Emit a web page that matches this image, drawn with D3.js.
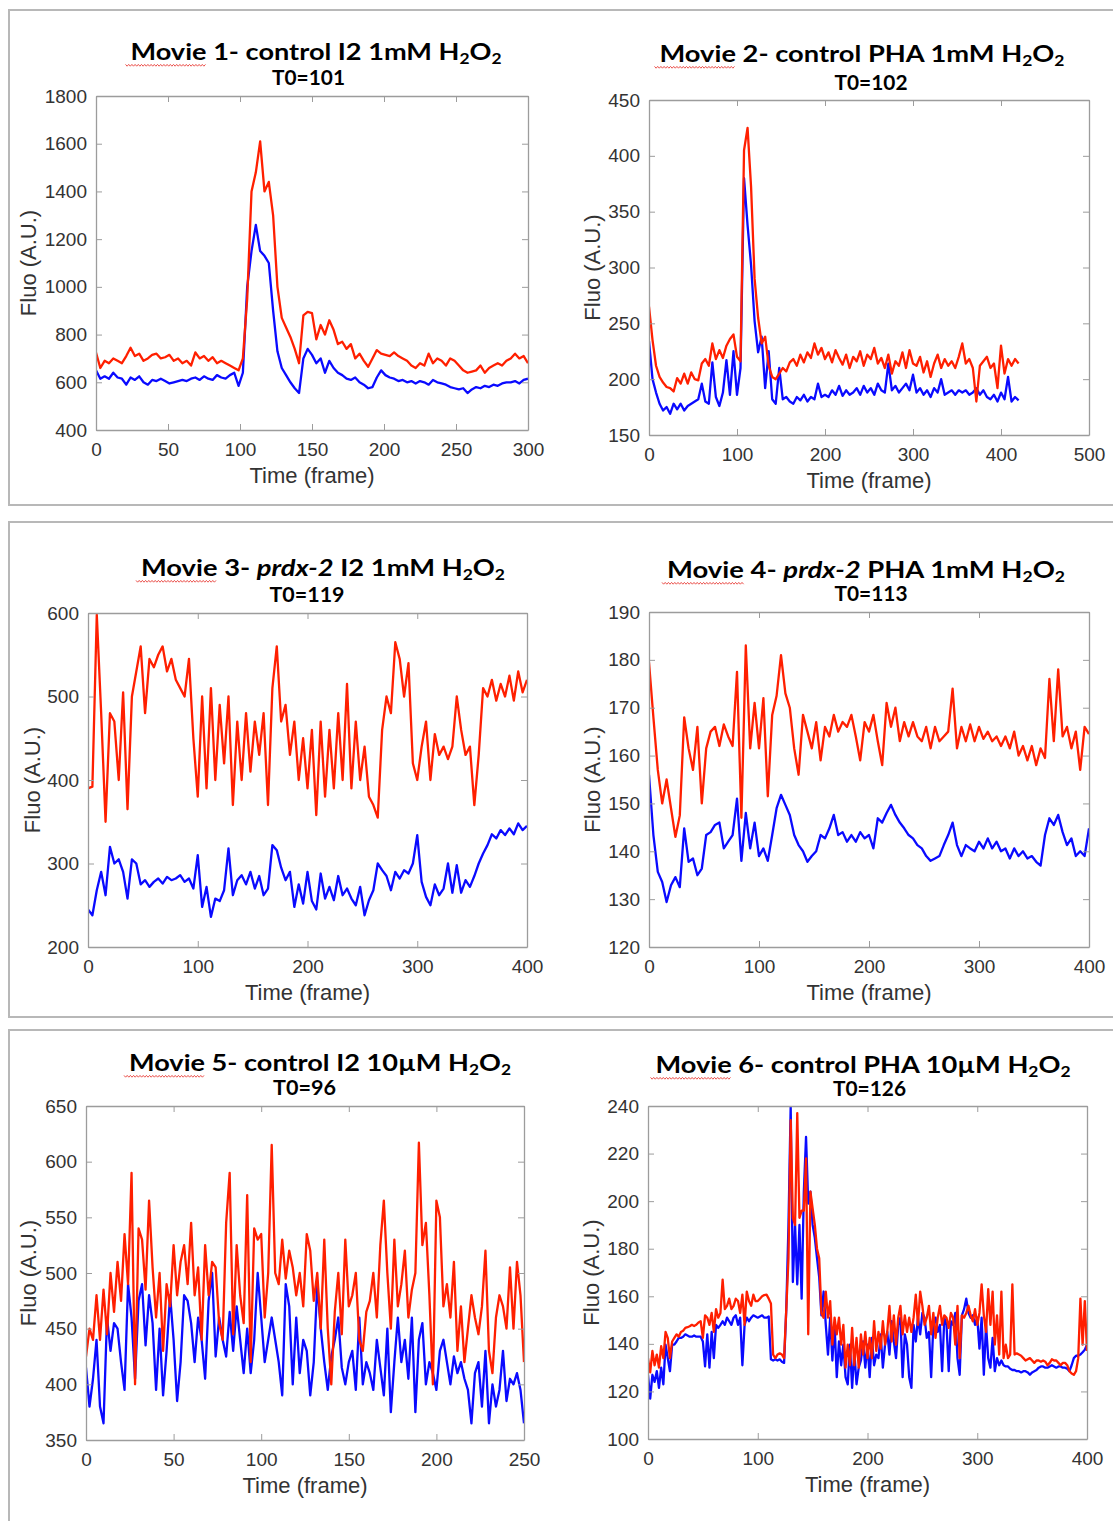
<!DOCTYPE html>
<html><head><meta charset="utf-8">
<script src="https://cdn.jsdelivr.net/npm/d3@7"></script>
<style>body{margin:0;background:#fff;} svg{display:block;}</style>
</head><body>
<svg id="c" width="1113" height="1521"></svg>
<script>
// ---------------- DATA ----------------
// Movie 1 (sampled every 3 frames, 0..300)
const m1Step = 3;
const m1Red = [725,660,690,680,700,690,680,710,745,710,
720,690,700,715,720,700,705,715,690,700,
680,690,670,725,700,710,690,705,680,690,
680,670,660,650,700,950,1400,1480,1610,1400,
1440,1300,1000,870,830,790,740,680,880,895,
890,780,840,800,860,820,760,770,740,760,
700,720,690,665,700,735,720,715,710,725,
710,700,690,670,660,680,670,720,680,700,
690,670,700,690,670,650,640,645,650,670,
640,660,670,680,670,690,700,720,700,710,680];
const m1Blue = [650,615,625,615,640,620,615,590,620,610,
625,600,590,610,605,615,605,595,600,605,
610,605,615,620,610,625,615,610,630,620,
615,630,640,585,640,1000,1150,1260,1150,1130,
1100,900,730,660,630,600,575,555,700,740,
715,680,700,640,690,660,640,630,615,610,
620,600,590,575,580,620,650,630,620,615,
605,610,600,605,595,605,600,590,610,600,
595,590,580,575,570,575,555,570,580,575,
585,580,590,585,595,600,600,605,595,610,615];
const m1XTicks = [0,50,100,150,200,250,300];
const m1YTicks = [400,600,800,1000,1200,1400,1600,1800];
const m1Title = [{t:"Movie 1- control I2 1mM H"},{t:"2",sub:1},{t:"O"},{t:"2",sub:1}];
const m1T0 = "T0=101";

// Movie 2 (every 4 frames, 0..420)
const m2Step = 4;
const m2Red = [265,235,212,202,197,193,192,189,201,196,
205,196,206,200,199,214,218,212,232,218,
226,219,230,236,240,220,216,405,425,372,
290,255,232,238,212,202,200,205,210,207,
215,218,212,222,215,224,219,232,222,228,
218,224,215,226,219,213,222,210,220,216,
225,212,222,218,228,214,219,210,222,205,
216,212,224,210,226,214,212,220,206,216,
202,214,222,210,218,212,216,210,220,232,
214,218,210,180,212,216,220,210,214,192,
230,205,218,212,218,214];
const m2Blue = [234,200,188,178,172,175,169,178,173,178,
172,176,178,180,182,196,180,178,215,184,
176,188,217,186,225,186,210,380,338,302,
252,224,238,192,225,182,178,210,182,184,
180,178,184,181,186,180,184,182,196,184,
186,184,190,186,194,185,190,186,188,192,
186,194,188,192,186,196,190,188,214,190,
194,188,192,196,190,204,188,192,186,190,
184,192,188,200,186,188,190,186,190,188,
190,186,188,192,186,190,184,182,186,180,
188,182,202,180,184,181];
const m2XTicks = [0,100,200,300,400,500];
const m2YTicks = [150,200,250,300,350,400,450];
const m2Title = [{t:"Movie 2- control PHA 1mM H"},{t:"2",sub:1},{t:"O"},{t:"2",sub:1}];
const m2T0 = "T0=102";

// Movie 3 (every 4 frames, 0..400)
const m3Step = 4;
const m3Red = [390,392,598,480,350,480,470,400,505,365,
500,530,560,480,545,535,550,560,530,545,
520,510,500,545,450,380,500,390,510,400,
490,420,500,370,470,400,480,410,470,430,
480,370,510,560,470,490,430,470,400,450,
390,460,358,470,380,460,390,480,400,515,
390,470,400,440,380,370,355,460,500,480,
565,545,500,540,420,400,440,470,400,455,
430,440,425,440,500,460,430,440,370,430,
510,500,520,495,515,500,525,495,530,505,520];
const m3Blue = [245,238,268,290,262,320,300,305,290,258,
305,300,275,280,272,278,282,276,284,280,
282,286,278,282,270,310,248,272,236,258,
255,268,318,262,280,286,275,290,270,285,
262,270,322,316,295,280,290,248,275,252,
290,255,245,288,258,272,256,285,262,270,
258,250,272,238,256,268,300,292,285,268,
290,282,292,288,300,334,278,260,250,275,
262,270,300,265,298,265,280,272,285,300,
312,322,335,330,340,334,342,335,348,340,345];
const m3XTicks = [0,100,200,300,400];
const m3YTicks = [200,300,400,500,600];
const m3Title = [{t:"Movie 3- "},{t:"prdx-2",i:1},{t:" I2 1mM H"},{t:"2",sub:1},{t:"O"},{t:"2",sub:1}];
const m3T0 = "T0=119";

// Movie 4 (every 4 frames, 0..400)
const m4Step = 4;
const m4Red = [179.5,168,157,150,155,149,143,147.5,168,161.5,
157,166,150,161.5,165,166,162,166.5,164,162,
177.5,147,183,161.5,171,161.5,172,151.5,168.5,172.5,
181,173,170,161.5,156,168.5,165,161.5,167,159,
166,164,168.5,165,167,166,168.5,164,159,167,
165,168.5,163,158,171,166,170,163,167,164,
167,164,163,166,161.5,166,163,164,165,174,
161.5,166,163,166.5,163,166,163.5,165,163,164,
162,164,161.5,165,160,162,159,162,158,161.5,
159.5,176,163,178,164,166,161.5,165,157,166,164.5];
const m4Blue = [156,143.4,135.7,133.6,129.4,132.9,134.6,132.5,144.8,137.8,
138.5,135,136.4,143.4,144,145.5,146,140.6,142,143.4,
151,138,148,140.6,146,139,140.6,138,143.4,149,
151.8,149.7,147.6,143.4,141.3,140,137.8,139,140,143.4,
142.7,144.8,147.6,143.4,144,142,143.4,142,144,142.7,
143.4,140.6,146.9,146,148,149.7,147.6,146,144.8,143.4,
142.7,141.3,140.6,139,138,138.5,139,141.3,143.4,146,
141.3,139,141.3,140.6,140,142,140.6,142.7,140.6,142,
140,140.6,138.5,140.6,139,140,138.5,139,137.8,137,
143.4,146.9,145.5,147.6,144,141.3,142.7,139,140,139,144.8];
const m4XTicks = [0,100,200,300,400];
const m4YTicks = [120,130,140,150,160,170,180,190];
const m4Title = [{t:"Movie 4- "},{t:"prdx-2",i:1},{t:" PHA 1mM H"},{t:"2",sub:1},{t:"O"},{t:"2",sub:1}];
const m4T0 = "T0=113";

// Movie 5 (every 2 frames, 0..250)
const m5Step = 2;
const m5Red = [425,450,440,480,440,485,445,500,465,510,
475,535,490,590,400,540,530,485,565,505,
460,500,430,490,470,525,480,510,525,490,
545,480,505,440,525,480,510,505,455,440,
545,590,445,525,480,455,570,420,540,530,
535,460,500,615,500,490,530,495,520,505,
480,500,470,535,520,475,500,450,530,450,
400,465,500,445,530,470,480,500,440,430,
465,475,500,460,525,565,500,450,530,470,
490,520,460,485,500,617,525,545,480,400,
565,550,470,490,460,510,430,470,420,450,
480,460,445,470,520,430,410,460,480,470,
450,505,450,510,480,420];
const m5Blue = [415,380,405,440,380,365,460,430,455,450,
420,395,490,460,405,475,490,435,480,455,
395,450,390,430,480,440,385,420,480,475,
455,420,460,440,405,475,500,425,460,440,
425,465,430,470,440,410,450,410,440,500,
460,420,440,460,440,420,390,490,470,400,
460,410,440,430,390,420,490,450,420,395,
425,440,460,415,400,420,430,395,460,400,
420,410,395,440,415,390,450,375,420,460,
420,440,405,460,375,440,455,400,420,410,
395,430,440,420,400,425,410,420,405,395,
365,410,420,380,430,365,400,380,395,430,
385,405,400,410,395,365];
const m5XTicks = [0,50,100,150,200,250];
const m5YTicks = [350,400,450,500,550,600,650];
const m5Title = [{t:"Movie 5- control I2 10\u00b5M H"},{t:"2",sub:1},{t:"O"},{t:"2",sub:1}];
const m5T0 = "T0=96";

// Movie 6 (every 2 frames, 0..400)
const m6Step = 2;
const m6Red = [134,128,137,131,135.5,130,139,134,145,142.5,
134,141,142.5,144,143,145,145.5,146.7,147,147.4,
148,147.5,148,149,149.5,142.5,152,151,148,153,
145,154.6,151,153,167,154.6,156,159,154.6,156,
159,158,153,160.7,148,162,158,156,160.7,158,
158,159,160,160.5,160.7,159,157,135.5,134,135.5,
136,135.5,134,154.6,176,234,193,190,237,193,
196,196,218,144,204,197,190,180,176,153,
151,162,151,158,139.7,151,144,151,139.7,148,
130,139.7,131,146.7,131,142.5,130,144,135.5,145,
134,142.5,134,149.5,137,145,138,149.5,139.7,145,
156,141,152,139.7,151,156,144,152,145,151,
145,151,160.7,148,162,156,148,151,156,144,
153,142.5,151,156,148,152,151,146.7,153,151,
139.7,156,134,152,151,153,156,152,149.5,154.6,
148,153,165,152,145,163,148,162,139.7,152,
135.5,162,134,139.7,134,135.5,165,135.5,136,135.5,
135,134,133,133.5,134,133,132,133,133,132.5,
133,132.5,131,132,133.5,133,133,132,131,132,
132,131,128.5,127.5,127,128.5,134,159,139.7,158,137];
const m6Blue = [127,117,127,124,128.5,121.5,130,123,139.7,134,
128.5,139.7,139.7,141,142.5,142.5,143,144,143.5,143,
143,143.5,143,143,143,141,130.5,144,130,145,
134,148,146.7,148,149.5,148,151,149.5,148,151,
152,148,151,131,148,151,149.5,151,152,151.5,
151,151.5,152,151,151,151.5,133.5,133,133.5,133,
133.5,132.5,132,154.6,190,240,166,190,165,190,
159,204,227,199,204,190,184.6,176,168,152,
162,148,135.5,151,133,148,126,141,131,139.7,
126,123,139.7,121.5,137,123,130,133,141,130,
139.7,126,142.5,131,135.5,134,144,130,139.7,145,
135.5,149.5,141,134,148,151,126,144,139.7,126,
121.5,148,141,151,144,153,151,142.5,145,126,
148,151,145,148,128.5,151,148,128.5,149.5,148,
153,134,127,152,154.6,159,153,151,152,148,
151,138,151,127,148,134,130,142.5,128.5,134,
131,133,131,130.5,130.5,129.5,129,129,128.5,128.5,
128,128.5,128.5,128,127,128,128.5,129,130,130.5,
130.5,130,130,130.5,131,130.5,130,130.5,130.5,130,
130,129.5,128.5,131,134,135,135,135.5,136.5,137.5,139.7];
const m6XTicks = [0,100,200,300,400];
const m6YTicks = [100,120,140,160,180,200,220,240];
const m6Title = [{t:"Movie 6- control PHA 10\u00b5M H"},{t:"2",sub:1},{t:"O"},{t:"2",sub:1}];
const m6T0 = "T0=126";

const xLabel = "Time (frame)";
const yLabel = "Fluo (A.U.)";

// ---------------- LAYOUT ----------------
const panels = [
  {red:m1Red, blue:m1Blue, step:m1Step, xDom:[0,300], xTicks:m1XTicks, yDom:[400,1800], yTicks:m1YTicks, title:m1Title, t0:m1T0,
   l:96, r:528, t:96, b:430, tx:316, ty:60, tw:371, t0x:308.5, t0y:85, t0w:73, yl:60},
  {red:m2Red, blue:m2Blue, step:m2Step, xDom:[0,500], xTicks:m2XTicks, yDom:[150,450], yTicks:m2YTicks, title:m2Title, t0:m2T0,
   l:649, r:1089, t:100, b:435, tx:862, ty:62, tw:405, t0x:871, t0y:90, t0w:73, yl:49},
  {red:m3Red, blue:m3Blue, step:m3Step, xDom:[0,400], xTicks:m3XTicks, yDom:[200,600], yTicks:m3YTicks, title:m3Title, t0:m3T0,
   l:88, r:527, t:613, b:947, tx:323, ty:576, tw:364, t0x:307, t0y:602, t0w:75, yl:48},
  {red:m4Red, blue:m4Blue, step:m4Step, xDom:[0,400], xTicks:m4XTicks, yDom:[120,190], yTicks:m4YTicks, title:m4Title, t0:m4T0,
   l:649, r:1089, t:612, b:947, tx:866, ty:578, tw:398, t0x:871, t0y:601, t0w:73, yl:49},
  {red:m5Red, blue:m5Blue, step:m5Step, xDom:[0,250], xTicks:m5XTicks, yDom:[350,650], yTicks:m5YTicks, title:m5Title, t0:m5T0,
   l:86, r:524, t:1106, b:1440, tx:320, ty:1071, tw:382, t0x:304.5, t0y:1095, t0w:63, yl:50},
  {red:m6Red, blue:m6Blue, step:m6Step, xDom:[0,400], xTicks:m6XTicks, yDom:[100,240], yTicks:m6YTicks, title:m6Title, t0:m6T0,
   l:648, r:1087, t:1106, b:1439, tx:863, ty:1073, tw:415, t0x:869.5, t0y:1096, t0w:73, yl:49}
];

const svg = d3.select("#c");
svg.append("rect").attr("width",1113).attr("height",1521).attr("fill","#fff");

// outer slide boxes
[[10,505],[522,1017],[1030,1560]].forEach(([t,b]) => {
  svg.append("rect").attr("x",9).attr("y",t).attr("width",1130).attr("height",b-t)
    .attr("fill","none").attr("stroke","#b8b8b8").attr("stroke-width",2);
});

const AX = "#9c9c9c", TXT = "#333333";
const AXFONT = "'Liberation Sans', Arial, Helvetica, sans-serif";
const TFONT = "Lato, 'Open Sans', sans-serif";
const RED = "#ff1f00", BLUE = "#0a0aff";

function drawTitle(segs, x, y, w, size) {
  const t = svg.append("text").attr("x",x).attr("y",y).attr("text-anchor","middle")
    .attr("font-family",TFONT).attr("font-weight",700).attr("font-size",size).attr("fill","#000");
  let shifted = false;
  segs.forEach(s => {
    const ts = t.append("tspan").text(s.t);
    if (s.i) ts.attr("font-style","italic");
    if (s.sub) { ts.attr("font-size", size*0.64); if (!shifted) ts.attr("dy", 4); shifted = true; }
    else if (shifted) { ts.attr("dy", -4); shifted = false; }
  });
  t.attr("textLength", w).attr("lengthAdjust","spacingAndGlyphs");
  return t;
}

panels.forEach((p, pi) => {
  const x = d3.scaleLinear().domain(p.xDom).range([p.l, p.r]);
  const y = d3.scaleLinear().domain(p.yDom).range([p.b, p.t]);
  const g = svg.append("g");

  // clip
  const cid = "clip" + pi;
  svg.append("clipPath").attr("id", cid).append("rect")
    .attr("x", p.l).attr("y", p.t).attr("width", p.r - p.l).attr("height", p.b - p.t);

  // lines
  const line = d3.line().x((d,i) => x(i * p.step)).y(d => y(d)).curve(d3.curveLinear);
  const lg = g.append("g").attr("clip-path", `url(#${cid})`);
  lg.append("path").datum(p.blue).attr("d", line).attr("fill","none").attr("stroke",BLUE)
    .attr("stroke-width",2.3).attr("stroke-linejoin","round");
  lg.append("path").datum(p.red).attr("d", line).attr("fill","none").attr("stroke",RED)
    .attr("stroke-width",2.3).attr("stroke-linejoin","round");

  // axes
  const styleAxis = sel => {
    sel.selectAll(".domain").attr("stroke", AX).attr("stroke-width", 1.3);
    sel.selectAll(".tick line").attr("stroke", AX).attr("stroke-width", 1);
    sel.selectAll("text").attr("fill", TXT).attr("font-family", AXFONT).attr("font-size", 19);
  };
  g.append("g").attr("transform", `translate(0,${p.b})`)
    .call(d3.axisBottom(x).tickValues(p.xTicks).tickFormat(d3.format("d")).tickSizeInner(-6).tickSizeOuter(0).tickPadding(13))
    .call(styleAxis);
  g.append("g").attr("transform", `translate(0,${p.t})`)
    .call(d3.axisTop(x).tickValues(p.xTicks).tickFormat("").tickSizeInner(-6).tickSizeOuter(0))
    .call(styleAxis);
  g.append("g").attr("transform", `translate(${p.l},0)`)
    .call(d3.axisLeft(y).tickValues(p.yTicks).tickFormat(d3.format("d")).tickSizeInner(-6).tickSizeOuter(0).tickPadding(9))
    .call(styleAxis);
  g.append("g").attr("transform", `translate(${p.r},0)`)
    .call(d3.axisRight(y).tickValues(p.yTicks).tickFormat("").tickSizeInner(-6).tickSizeOuter(0))
    .call(styleAxis);

  // axis labels
  g.append("text").attr("x", (p.l + p.r) / 2).attr("y", p.b + 53).attr("text-anchor","middle")
    .attr("font-family", AXFONT).attr("font-size", 22).attr("fill", TXT).text(xLabel);
  g.append("text").attr("transform", `translate(${p.l - p.yl},${(p.t + p.b) / 2}) rotate(-90)`)
    .attr("text-anchor","middle").attr("font-family", AXFONT).attr("font-size", 22).attr("fill", TXT).text(yLabel);

  // titles
  const tt = drawTitle(p.title, p.tx, p.ty, p.tw, 23.5);
  drawTitle([{t:p.t0}], p.t0x, p.t0y, p.t0w, 20);

  // spell-check squiggle under "Movie"
  try {
    const node = tt.node();
    const x0 = node.getStartPositionOfChar(0).x - 5;
    const x1 = node.getEndPositionOfChar(4).x;
    const pts = [];
    let k = 0;
    for (let xx = x0; xx <= x1; xx += 1.6, k++) pts.push([xx, p.ty + 5 + (k % 2 ? 1.2 : -0.6)]);
    svg.append("path").attr("d", d3.line()(pts)).attr("fill","none").attr("stroke","#e8403a").attr("stroke-width",0.9);
  } catch(e) {}
});
</script>
</body></html>
